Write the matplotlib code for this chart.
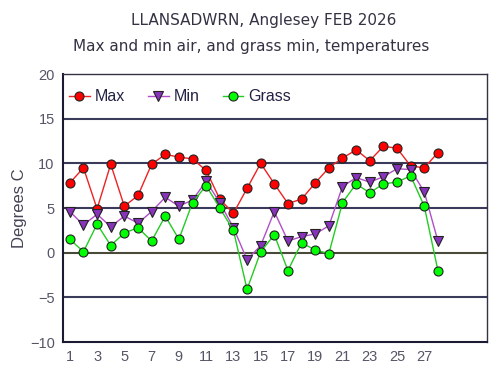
import matplotlib
matplotlib.use("Agg")
import matplotlib.pyplot as plt
from matplotlib.lines import Line2D

days = list(range(1, 29))
max_temp = [7.8, 9.5, 4.9, 9.9, 5.2, 6.4, 9.9, 11.0, 10.7, 10.5, 9.2, 6.0, 4.4, 7.2,
            10.0, 7.7, 5.5, 6.0, 7.8, 9.5, 10.6, 11.5, 10.3, 11.9, 11.7, 9.7, 9.5, 11.2]
min_temp = [4.6, 3.1, 4.3, 2.9, 4.1, 3.3, 4.6, 6.2, 5.2, 5.9, 8.0, 5.6, 2.8, -0.8,
            0.8, 4.6, 1.3, 1.8, 2.1, 3.0, 7.4, 8.4, 7.9, 8.5, 9.4, 9.3, 6.8, 1.3]
grass_min = [1.5, 0.1, 3.2, 0.8, 2.2, 2.8, 1.3, 4.1, 1.5, 5.6, 7.5, 5.0, 2.5, -4.1,
             0.1, 2.0, -2.0, 1.1, 0.3, -0.1, 5.6, 7.7, 6.7, 7.7, 7.9, 8.6, 5.2, -2.0]
x_ticks = list(range(1, 29, 2))
y_ticks = [-10, -5, 0, 5, 10, 15, 20]
title1 = "LLANSADWRN, Anglesey FEB 2026"
title2 = "Max and min air, and grass min, temperatures"

fig = plt.figure(figsize=(5.03, 3.76), dpi=100)
ax = fig.add_axes([63/503, 1-342/376, (487-63)/503, (342-74)/376])

grid_col = "#3a3a5a"
for yv in [-5, 0, 5, 10, 15]:
    ax.axhline(yv, color=grid_col if yv != 0 else "#4a4a3a", lw=1.5, zorder=1)

ax.plot(days, max_temp, color="#ee2222", lw=1.0, marker="o", ms=6.5,
        mfc="#ff0000", mec="#222222", mew=0.8, zorder=3)
ax.plot(days, min_temp, color="#b050c8", lw=1.0, marker="v", ms=7,
        mfc="#8833bb", mec="#222222", mew=0.8, zorder=3)
ax.plot(days, grass_min, color="#22cc22", lw=1.0, marker="o", ms=6.5,
        mfc="#00ff00", mec="#222222", mew=0.8, zorder=4)

ax.set_xlim(0.5, 31.6)
ax.set_ylim(-10, 20)
ax.set_xticks(x_ticks)
ax.set_yticks(y_ticks)
ax.tick_params(length=0, labelsize=10.5, colors="#555566", pad=6)
for lab in ax.get_xticklabels() + ax.get_yticklabels():
    lab.set_fontfamily("Liberation Sans")
ax.set_ylabel("Degrees C", fontsize=12, color="#444455", family="Liberation Sans", labelpad=2)

for s in ["left", "bottom"]:
    ax.spines[s].set_color("#1a1a33")
    ax.spines[s].set_linewidth(1.5)
for s in ["top", "right"]:
    ax.spines[s].set_color("#333344")
    ax.spines[s].set_linewidth(1.0)

handles = [
    Line2D([], [], color="#ee2222", lw=1.0, marker="o", ms=6.5, mfc="#ff0000", mec="#222222", mew=0.8),
    Line2D([], [], color="#b050c8", lw=1.0, marker="v", ms=7, mfc="#8833bb", mec="#222222", mew=0.8),
    Line2D([], [], color="#22cc22", lw=1.0, marker="o", ms=6.5, mfc="#00ff00", mec="#222222", mew=0.8),
]
leg = ax.legend(handles, ["Max", "Min", "Grass"], loc="upper left", ncol=3,
                frameon=False, bbox_to_anchor=(-0.016, 0.99), handlelength=1.3,
                handletextpad=0.3, columnspacing=1.45, borderaxespad=0.4,
                prop={"family": "Liberation Sans", "size": 11.5})
for t in leg.get_texts():
    t.set_color("#222244")

fig.text(264/503, 1-20/376, title1, ha="center", va="center", fontsize=11,
         color="#333344", family="DejaVu Sans")
fig.text(251/503, 1-47/376, title2, ha="center", va="center", fontsize=11,
         color="#333344", family="DejaVu Sans")

fig.savefig("out.png", dpi=100)
